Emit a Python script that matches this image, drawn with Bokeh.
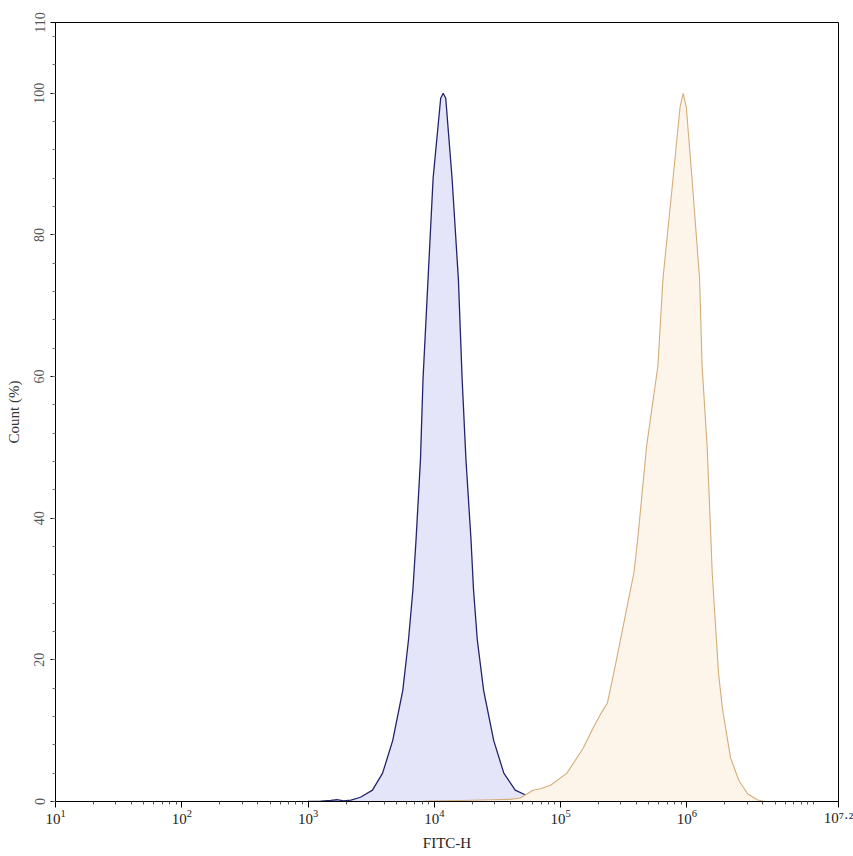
from bokeh.plotting import figure
from bokeh.models import FixedTicker, Range1d
from bokeh.embed import file_html
from bokeh.resources import INLINE

# ---- data (FITC-H given as log10 exponent, Count %) ----
blue_exp = [3.00, 3.10, 3.18, 3.23, 3.28, 3.34, 3.415, 3.51, 3.59, 3.67, 3.75, 3.795, 3.83,
            3.855, 3.89, 3.91, 3.95, 3.99, 4.05, 4.07, 4.09, 4.14, 4.19, 4.22, 4.25, 4.29,
            4.31, 4.34, 4.39, 4.47, 4.55, 4.64, 4.76, 4.88, 4.95, 5.0, 5.05, 5.12, 5.2, 5.3]
blue_cnt = [0.0, 0.05, 0.15, 0.25, 0.1, 0.2, 0.6, 1.6, 4.0, 8.6, 15.7, 22.8, 29.9,
            37.0, 48.3, 59.6, 73.8, 88.0, 99.3, 100.0, 99.3, 88.0, 73.8, 59.6, 48.3, 37.0,
            29.9, 22.8, 15.7, 8.6, 4.0, 1.6, 0.6, 0.2, 0.1, 0.15, 0.05, 0.15, 0.1, 0.0]

orange_exp = [3.90, 3.95, 4.2, 4.45, 4.6, 4.68, 4.78, 4.84, 4.92, 5.05, 5.18, 5.26, 5.315,
              5.37, 5.42, 5.50, 5.58, 5.61, 5.68, 5.77, 5.81, 5.89, 5.945, 5.97, 5.995,
              6.04, 6.10, 6.12, 6.16, 6.19, 6.20, 6.225, 6.25, 6.28, 6.305, 6.345, 6.41,
              6.48, 6.56, 6.62]
orange_cnt = [0.0, 0.05, 0.15, 0.25, 0.3, 0.5, 1.6, 1.8, 2.3, 4.0, 7.6, 10.5, 12.3,
              13.9, 18.1, 25.2, 32.3, 37.0, 50.1, 61.5, 73.8, 88.0, 98.0, 100.0, 98.0,
              88.0, 73.8, 61.5, 50.1, 37.0, 32.3, 25.2, 18.1, 13.3, 10.5, 6.2, 3.0,
              1.1, 0.2, 0.0]

x_major_exp = [1, 2, 3, 4, 5, 6, 7.2]
x_extra_tick_exp = [7]
x_end_label = "10⁷·²"
x_min_exp, x_max_exp = 1, 7.2
y_major = [0, 20, 40, 60, 80, 100, 110]
y_labels = ["0", "20", "40", "60", "80", "100", "110"]

SERIF = "Liberation Serif"
W, H = 853, 853
ML, MR, MT = 55, 15, 22
MB = H - 801

blue_x = [10 ** e for e in blue_exp]
orange_x = [10 ** e for e in orange_exp]
x_major = [10 ** e for e in x_major_exp]

p = figure(width=W, height=H, output_backend="svg", toolbar_location=None,
           x_axis_type="log",
           x_range=Range1d(10 ** x_min_exp, 10 ** x_max_exp), y_range=Range1d(0, 110),
           min_border_left=ML, min_border_right=MR, min_border_top=MT, min_border_bottom=MB)

p.varea(x=blue_x, y1=0, y2=blue_cnt, fill_color="#e5e5fa", fill_alpha=1.0)
p.line(x=blue_x, y=blue_cnt, line_color="#23236b", line_width=1.3)
p.varea(x=orange_x, y1=0, y2=orange_cnt, fill_color="#fdf4ea", fill_alpha=1.0)
p.line(x=orange_x, y=orange_cnt, line_color="#d4ad7a", line_width=1.1)

p.xgrid.visible = False
p.ygrid.visible = False
p.outline_line_color = "black"
p.outline_line_width = 1
p.outline_line_alpha = 1.0

# x axis (log decades)
minor_x = [k * 10 ** d for d in range(1, 8) for k in range(2, 10) if k * 10 ** d < 10 ** x_max_exp]
minor_x += [10 ** e for e in x_extra_tick_exp]
p.xaxis.ticker = FixedTicker(ticks=x_major, minor_ticks=minor_x)
p.xaxis.major_label_overrides = {10 ** x_max_exp: x_end_label}
p.xaxis.major_label_text_font = SERIF
p.xaxis.major_label_text_font_size = "15px"
p.xaxis.major_label_text_color = "#222222"
p.xaxis.major_label_standoff = 2
p.xaxis.axis_label = "FITC-H"
p.xaxis.axis_label_text_font = SERIF
p.xaxis.axis_label_text_font_style = "normal"
p.xaxis.axis_label_text_font_size = "15px"
p.xaxis.axis_label_text_color = "#222222"
p.xaxis.axis_label_standoff = 6
p.xaxis.major_tick_out = 6
p.xaxis.major_tick_in = 0
p.xaxis.minor_tick_out = 3
p.xaxis.minor_tick_in = 0
p.xaxis.axis_line_color = "black"
p.xaxis.major_tick_line_color = "black"
p.xaxis.minor_tick_line_color = "#555555"

# y axis
p.yaxis.ticker = FixedTicker(ticks=y_major, minor_ticks=list(range(0, 111, 4)))
p.yaxis.major_label_overrides = {t: l for t, l in zip(y_major, y_labels)}
p.yaxis.major_label_orientation = "vertical"
p.yaxis.axis_label = "Count (%)"
p.yaxis.axis_label_text_font = SERIF
p.yaxis.axis_label_text_font_style = "normal"
p.yaxis.axis_label_text_font_size = "15px"
p.yaxis.axis_label_text_color = "#333333"
p.yaxis.axis_label_standoff = 10
p.yaxis.major_label_text_font = SERIF
p.yaxis.major_label_text_font_size = "14px"
p.yaxis.major_label_text_color = "#555555"
p.yaxis.major_label_standoff = 6
p.yaxis.major_tick_out = 5
p.yaxis.major_tick_in = 0
p.yaxis.minor_tick_out = 3
p.yaxis.minor_tick_in = 0
p.yaxis.axis_line_color = "black"
p.yaxis.major_tick_line_color = "black"
p.yaxis.minor_tick_line_color = "#777777"

open("out.html", "w").write(file_html(p, INLINE))
